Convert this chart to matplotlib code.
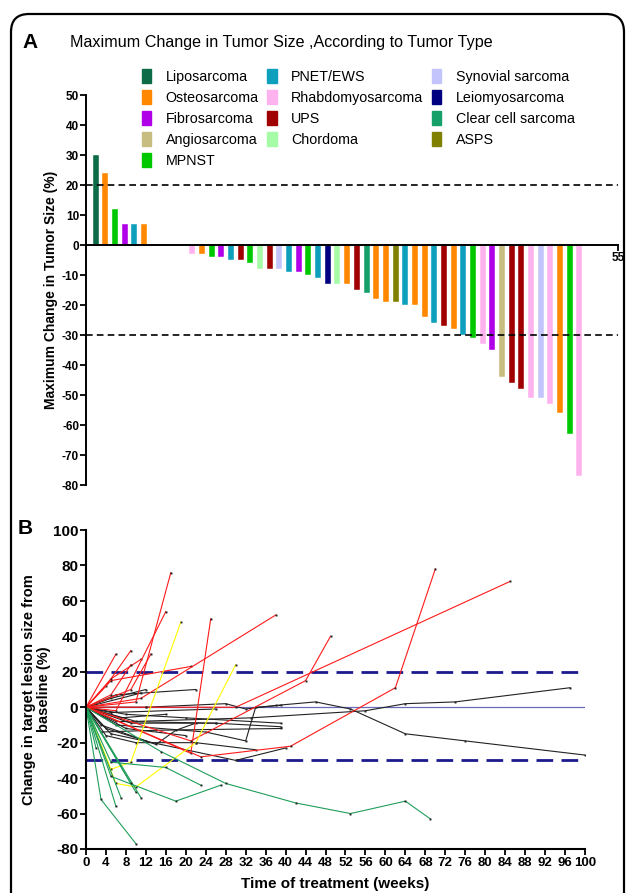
import matplotlib
matplotlib.use("Agg")
import matplotlib.pyplot as plt
from matplotlib.patches import FancyBboxPatch, Patch

plt.rcParams['font.family'] = ['Liberation Sans', 'DejaVu Sans']

# ---- panel A data ----
tumor_types = ['Liposarcoma', 'Osteosarcoma', 'Fibrosarcoma', 'Angiosarcoma', 'MPNST',
               'PNET/EWS', 'Rhabdomyosarcoma', 'UPS', 'Chordoma',
               'Synovial sarcoma', 'Leiomyosarcoma', 'Clear cell sarcoma', 'ASPS']
type_colors = ['#0d6b47', '#ff8800', '#b000e8', '#c8bd80', '#00c800',
               '#0e9fbd', '#ffb3ee', '#a00000', '#a6fca6',
               '#c4c4fc', '#000080', '#15a06a', '#808000']

max_change = [30, 24, 12, 7, 7, 7, 0, 0, 0, 0,
              -3, -3, -4, -4, -5, -5, -6, -8, -8, -8,
              -9, -9, -10, -11, -13, -13, -13, -15, -16, -18,
              -19, -19, -20, -20, -24, -26, -27, -28, -30, -31,
              -33, -35, -44, -46, -48, -51, -51, -53, -56, -63, -77]
patient_type = ['Liposarcoma', 'Osteosarcoma', 'MPNST', 'Fibrosarcoma', 'PNET/EWS', 'Osteosarcoma',
                None, None, None, None,
                'Rhabdomyosarcoma', 'Osteosarcoma', 'MPNST', 'Fibrosarcoma', 'PNET/EWS', 'UPS',
                'MPNST', 'Chordoma', 'UPS', 'Synovial sarcoma',
                'PNET/EWS', 'Fibrosarcoma', 'MPNST', 'PNET/EWS', 'Leiomyosarcoma', 'Chordoma',
                'Osteosarcoma', 'UPS', 'Clear cell sarcoma', 'Osteosarcoma',
                'Osteosarcoma', 'ASPS', 'PNET/EWS', 'Osteosarcoma', 'Osteosarcoma', 'PNET/EWS',
                'UPS', 'Osteosarcoma', 'PNET/EWS', 'MPNST',
                'Rhabdomyosarcoma', 'Fibrosarcoma', 'Angiosarcoma', 'UPS', 'UPS',
                'Rhabdomyosarcoma', 'Synovial sarcoma', 'Rhabdomyosarcoma', 'Osteosarcoma',
                'MPNST', 'Rhabdomyosarcoma']

# ---- panel B data (weeks, % change) ----
pd_weeks = [[0, 6], [0, 4, 9], [0, 5, 11], [0, 5, 9], [0, 5, 21], [0, 21, 25],
            [0, 11, 38], [0, 6, 16], [0, 10, 17], [0, 9, 13],
            [0, 23, 41, 62, 70], [0, 21, 44, 49], [0, 12, 30, 85]]
pd_change = [[0, 30], [0, 12, 32], [0, 16, 27], [0, 7, 24], [0, 15, 23], [0, -26, 50],
             [0, 5, 52], [0, -2, 54], [0, 3, 76], [0, 10, 30],
             [0, -28, -22, 11, 78], [0, -19, 15, 40], [0, 0, 0, 71]]

sd_weeks = [[0, 12, 28, 32, 38, 46, 53, 64, 76, 100], [0, 10, 33, 56, 64, 74, 97],
            [0, 6, 22], [0, 5, 12], [0, 11], [0, 8, 20, 39], [0, 6, 26, 39],
            [0, 6, 24, 32, 34, 39], [0, 5, 30, 40], [0, 4, 10, 22, 34],
            [0, 8, 20], [0, 3, 14, 18, 22], [0, 5, 26], [0, 7, 16],
            [0, 4, 12], [0, 9, 26], [0, 3, 14, 39]]
sd_change = [[0, 0, 2, -1, 1, 3, -1, -15, -19, -27], [0, -8, -6, -2, 2, 3, 11],
             [0, 7, 10], [0, 5, 10], [0, 8], [0, -4, -6, -9], [0, -8, -9, -11],
             [0, -10, -14, -19, 0, 1], [0, -15, -30, -23], [0, -16, -20, -20, -24],
             [0, -12, -16], [0, -10, -21, -13, -9], [0, -3, -1], [0, -6, -4],
             [0, -12, -19], [0, -9, -9], [0, -14, -13, -12]]

yl_weeks = [[0, 5, 9, 19], [0, 6, 10, 22, 30]]
yl_change = [[0, -35, -31, 48], [0, -43, -45, -20, 24]]

pr_weeks = [[0, 2], [0, 3, 10], [0, 6], [0, 7], [0, 10], [0, 11], [0, 5, 18, 27],
            [0, 5, 16, 23], [0, 15, 28, 42, 53, 64, 69], [0, 9]]
pr_change = [[0, -23], [0, -52, -77], [0, -56], [0, -51], [0, -48], [0, -51],
             [0, -39, -53, -44], [0, -31, -34, -44], [0, -25, -43, -54, -60, -53, -63],
             [0, -43]]

W, H = 627, 893
fig = plt.figure(figsize=(W / 100, H / 100), dpi=100)

# frame round the whole figure
bg = fig.add_axes([0, 0, 1, 1])
bg.set_xlim(0, W)
bg.set_ylim(H, 0)
bg.axis('off')
bg.add_patch(FancyBboxPatch((11, 14), 613, 920, boxstyle='round,pad=0,rounding_size=18',
                            fill=False, lw=1.6, ec='black'))


def fbox(x0, y0, x1, y1):
    return [x0 / W, 1 - y1 / H, (x1 - x0) / W, (y1 - y0) / H]


# ---------------- panel A ----------------
axA = fig.add_axes(fbox(86, 95, 618, 485))
cmap = dict(zip(tumor_types, type_colors))
for i, (v, t) in enumerate(zip(max_change, patient_type)):
    if t is None:
        continue
    axA.bar(i + 1, v, width=0.62, color=cmap[t], ec='white', lw=0.3)
axA.axhline(20, color='black', lw=1.2, dashes=(4, 2.5))
axA.axhline(-30, color='black', lw=1.2, dashes=(4, 2.5))
axA.set_xlim(0, 55)
axA.set_ylim(-80, 50)
axA.spines['top'].set_visible(False)
axA.spines['right'].set_visible(False)
axA.spines['bottom'].set_position(('data', 0))
for s in ('left', 'bottom'):
    axA.spines[s].set_linewidth(1.4)
axA.set_xticks([55])
axA.set_xticklabels(['55'], fontweight='bold', fontsize=8.5)
axA.set_yticks(range(-80, 51, 10))
axA.set_yticklabels([str(v) for v in range(-80, 51, 10)], fontweight='bold', fontsize=8.5)
axA.tick_params(axis='both', direction='out', length=4, width=1.3, pad=1)
axA.set_ylabel('Maximum Change in Tumor Size (%)', fontweight='bold', fontsize=10, labelpad=3)

handles = [Patch(color=c, label=t) for t, c in zip(tumor_types, type_colors)]
fig.legend(handles=handles, loc='upper left', bbox_to_anchor=(135 / W, 1 - 62 / H), ncol=3,
           frameon=False, fontsize=10.3, handlelength=0.65, handleheight=1.15,
           handletextpad=1.0, columnspacing=0.6, labelspacing=0.42, borderpad=0)

fig.text(22 / W, 1 - 42 / H, 'A', fontsize=15, fontweight='bold', va='center')
fig.text(70 / W, 1 - 43 / H, 'Maximum Change in Tumor Size ,According to Tumor Type',
         fontsize=11.6, va='center')

# ---------------- panel B ----------------
axB = fig.add_axes(fbox(86, 530, 585, 849))
axB.axhline(0, color='#6a6ab8', lw=0.9)
axB.axhline(20, color='#1a1a8c', lw=2, dashes=(6, 3))
axB.axhline(-30, color='#1a1a8c', lw=2, dashes=(6, 3))
groups = [(sd_weeks, sd_change, '#222222'), (pd_weeks, pd_change, '#ff1a1a'),
          (yl_weeks, yl_change, '#ffff00'), (pr_weeks, pr_change, '#1f9e5a')]
for weeks, change, col in groups:
    for xs, ys in zip(weeks, change):
        axB.plot(xs, ys, color=col, lw=0.8)
        axB.plot(xs[1:], ys[1:], 's', color='#222222', ms=1.4, mew=0)
axB.set_xlim(0, 100)
axB.set_ylim(-80, 100)
axB.spines['top'].set_visible(False)
axB.spines['right'].set_visible(False)
for s in ('left', 'bottom'):
    axB.spines[s].set_linewidth(1.5)
axB.set_xticks(range(0, 101, 4))
axB.set_xticklabels([str(v) for v in range(0, 101, 4)], fontweight='bold', fontsize=9.5)
axB.set_yticks(range(-80, 101, 20))
axB.set_yticklabels([str(v) for v in range(-80, 101, 20)], fontweight='bold', fontsize=11)
axB.tick_params(axis='both', direction='out', length=4, width=1.3, pad=1.5)
axB.set_xlabel('Time of treatment (weeks)', fontweight='bold', fontsize=11, labelpad=6)
axB.set_ylabel('Change in target lesion size from\nbaseline (%)', fontweight='bold',
               fontsize=10.5, labelpad=1, linespacing=1.15)

fig.text(18 / W, 1 - 528 / H, 'B', fontsize=15, fontweight='bold', va='center')

fig.savefig('out.png', dpi=100)
